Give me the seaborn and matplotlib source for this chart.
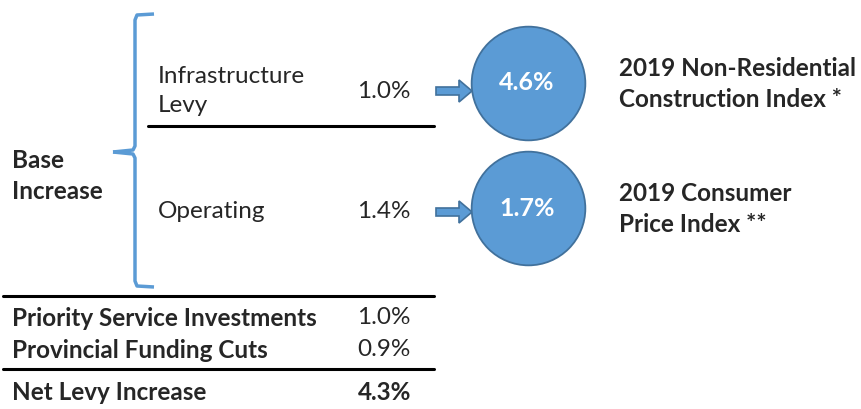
import matplotlib.pyplot as plt
import seaborn as sns
from matplotlib.patches import FancyArrow

# Data
base_labels = ['Infrastructure\nLevy', 'Operating']
base_values = ['1.0%', '1.4%']
index_values = ['4.6%', '1.7%']
index_labels = ['2019 Non-Residential\nConstruction Index *', '2019 Consumer\nPrice Index **']
extra_labels = ['Priority Service Investments', 'Provincial Funding Cuts']
extra_values = ['1.0%', '0.9%']
total_label = 'Net Levy Increase'
total_value = '4.3%'

sns.set_theme(style='white')
plt.rcParams['font.family'] = ['Lato', 'DejaVu Sans']

blue = '#5b9bd5'
edge = '#41719c'
fs = 17.5
ls = 1.45

fig = plt.figure(figsize=(8.62, 4.09), dpi=100)
ax = fig.add_axes([0, 0, 1, 1])
ax.set_xlim(0, 862)
ax.set_ylim(409, 0)
ax.axis('off')

# brace
ax.plot([154, 137, 135, 135, 133, 113], [14, 15, 20, 146, 150, 152], color=blue, lw=2.5, solid_capstyle='butt')
ax.plot([154, 137, 135, 135, 133, 113], [287, 286, 281, 158, 154, 152], color=blue, lw=2.5, solid_capstyle='butt')
ax.text(12, 176, 'Base\nIncrease', fontsize=fs, fontweight='bold', va='center', linespacing=ls)

# base rows
row_y = [91, 212]
for lab, val, y in zip(base_labels, base_values, row_y):
    ax.text(158, y, lab, fontsize=fs, va='center', linespacing=ls)
    ax.text(411, y, val, fontsize=fs, va='center', ha='right')
    ax.add_patch(FancyArrow(436, y, 36, 0, width=8, head_width=22, head_length=13,
                            length_includes_head=True, fc=blue, ec=edge, lw=1.2))

# separator lines
ax.plot([148, 434], [126, 126], color='black', lw=2.2)
ax.plot([3, 434], [296, 296], color='black', lw=2.2)
ax.plot([3, 434], [369, 369], color='black', lw=2.2)

# index circles
circle_y = [83, 208]
sns.scatterplot(x=[528, 528], y=circle_y, s=6700, color=blue, edgecolor=edge, linewidth=1.3, ax=ax, legend=False)
for val, lab, y in zip(index_values, index_labels, circle_y):
    ax.text(527, y, val, fontsize=18, fontweight='bold', color='white', ha='center', va='center')
    ax.text(619, y + 1, lab, fontsize=fs, fontweight='bold', va='center', linespacing=ls)

# bottom rows
for lab, val, y in zip(extra_labels, extra_values, [318, 350]):
    ax.text(12, y, lab, fontsize=fs, fontweight='bold', va='center')
    ax.text(411, y, val, fontsize=fs, va='center', ha='right')
ax.text(12, 392, total_label, fontsize=fs, fontweight='bold', va='center')
ax.text(411, 392, total_value, fontsize=fs, fontweight='bold', va='center', ha='right')

fig.savefig('out.png', dpi=100)
